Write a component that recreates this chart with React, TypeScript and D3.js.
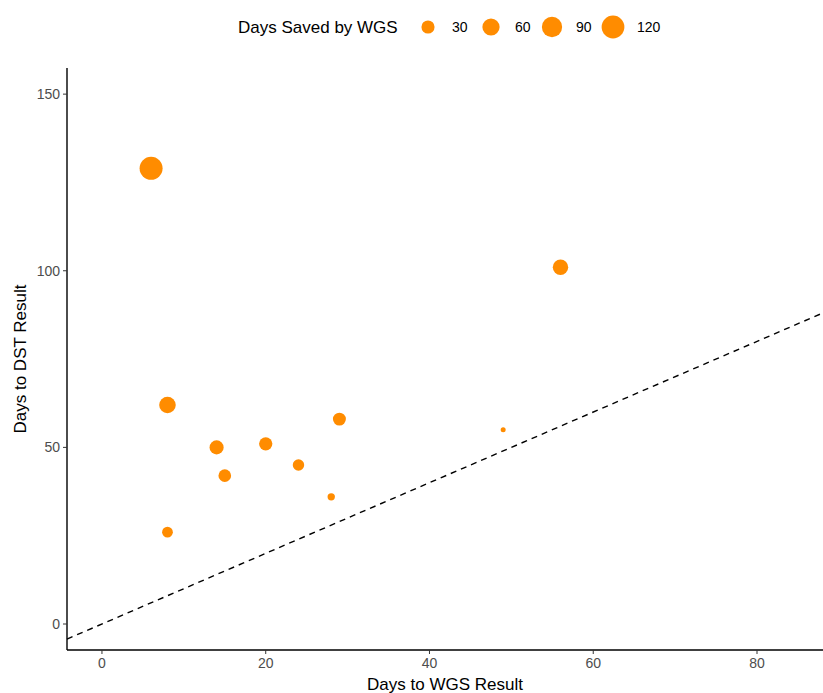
import React from "react";
import * as d3 from "d3";

// Days to WGS result vs days to DST result, one point per isolate
const wgsDays = [6, 56, 8, 14, 15, 20, 24, 29, 28, 49, 8];
const dstDays = [129, 101, 62, 50, 42, 51, 45, 58, 36, 55, 26];
const xTicks = [0, 20, 40, 60, 80];
const yTicks = [0, 50, 100, 150];
const legendBreaks = [30, 60, 90, 120];

const W = 823;
const H = 693;
const margin = { top: 68, right: 0, bottom: 43, left: 67 };
const orange = "#FF8C00";
const grey = "#4D4D4D";
const font = "'Liberation Sans', Arial, sans-serif";

export default function App() {
  const points = wgsDays.map((x, i) => ({ x, y: dstDays[i], saved: dstDays[i] - x }));
  const saved = points.map((p) => p.saved);

  const x = d3.scaleLinear().domain([-4.27, 88.06]).range([margin.left, W - margin.right]);
  const y = d3.scaleLinear().domain([-7.36, 157.4]).range([H - margin.bottom, margin.top]);

  // ggplot-like area scale: radius grows with sqrt of rescaled value
  const [smin, smax] = d3.extent(saved) as [number, number];
  const r = (v: number) => 2.5 + 9 * Math.sqrt(Math.max(0, (v - smin) / (smax - smin)));

  const [x0, x1] = x.domain();
  const line = d3.line<number>().x((d) => x(d)).y((d) => y(d));

  const plotBottom = H - margin.bottom;
  const legendX = [428, 491, 552, 613];

  return (
    <svg width={W} height={H} style={{ position: "absolute", left: 0, top: 0, background: "#fff" }} fontFamily={font}>
      {/* legend */}
      <g>
        <text x={238} y={27} dy="0.35em" fontSize={17} fill="#000">Days Saved by WGS</text>
        {legendBreaks.map((b, i) => (
          <g key={b}>
            <circle cx={legendX[i]} cy={27} r={r(b)} fill={orange} />
            <text x={legendX[i] + 24} y={27} dy="0.35em" fontSize={14} fill="#000">{b}</text>
          </g>
        ))}
      </g>

      {/* reference line y = x */}
      <path d={line([x0, x1]) ?? ""} fill="none" stroke="#000" strokeWidth={1.4} strokeDasharray="6,5" />

      {/* points */}
      {points.map((p, i) => (
        <circle key={i} cx={x(p.x)} cy={y(p.y)} r={r(p.saved)} fill={orange} />
      ))}

      {/* axes */}
      <line x1={margin.left} x2={W} y1={plotBottom} y2={plotBottom} stroke="#000" strokeWidth={1.4} />
      <line x1={margin.left} x2={margin.left} y1={margin.top} y2={plotBottom} stroke="#000" strokeWidth={1.4} />
      {xTicks.map((t) => (
        <g key={t}>
          <line x1={x(t)} x2={x(t)} y1={plotBottom} y2={plotBottom + 4} stroke="#333" />
          <text x={x(t)} y={plotBottom + 18} textAnchor="middle" fontSize={14} fill={grey}>{t}</text>
        </g>
      ))}
      {yTicks.map((t) => (
        <g key={t}>
          <line x1={margin.left - 4} x2={margin.left} y1={y(t)} y2={y(t)} stroke="#333" />
          <text x={margin.left - 7} y={y(t)} dy="0.35em" textAnchor="end" fontSize={14} fill={grey}>{t}</text>
        </g>
      ))}

      {/* axis titles */}
      <text x={(margin.left + W) / 2} y={690} textAnchor="middle" fontSize={17} fill="#000">Days to WGS Result</text>
      <text transform={`translate(26,${(margin.top + plotBottom) / 2}) rotate(-90)`} textAnchor="middle" fontSize={17} fill="#000">Days to DST Result</text>
    </svg>
  );
}
